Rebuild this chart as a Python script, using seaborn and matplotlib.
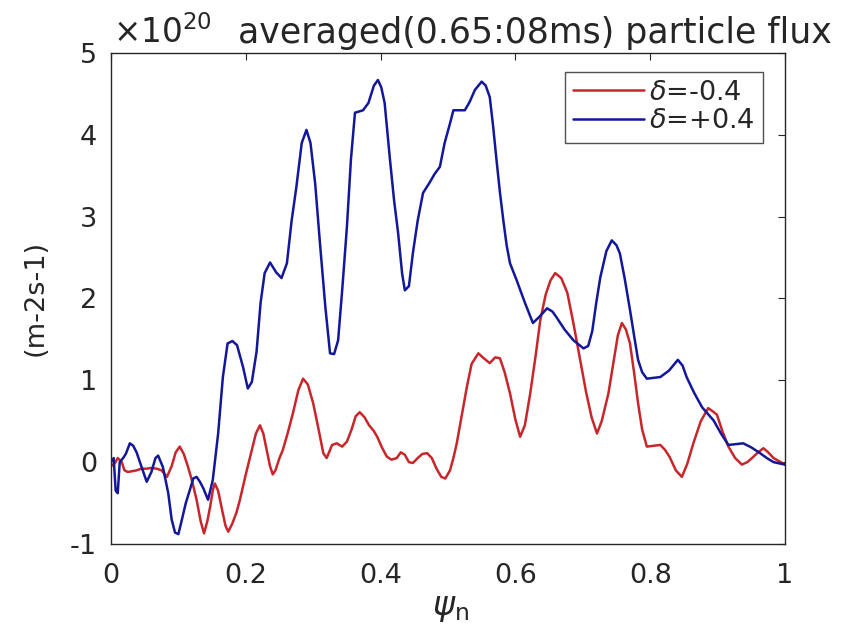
import matplotlib
matplotlib.use("Agg")
import matplotlib.pyplot as plt
import seaborn as sns

psi_pos = [
    0.000, 0.004, 0.007, 0.010, 0.013, 0.018, 0.022, 0.028, 0.033, 0.038,
    0.045, 0.053, 0.060, 0.066, 0.070, 0.077, 0.085, 0.090, 0.095, 0.100,
    0.105, 0.111, 0.117, 0.122, 0.127, 0.132, 0.137, 0.144, 0.151, 0.159,
    0.166, 0.173, 0.180, 0.187, 0.196, 0.203, 0.209, 0.216, 0.222, 0.228,
    0.236, 0.245, 0.253, 0.261, 0.268, 0.275, 0.283, 0.290, 0.296, 0.303,
    0.310, 0.318, 0.325, 0.331, 0.337, 0.343, 0.350, 0.356, 0.362, 0.374,
    0.382, 0.390, 0.396, 0.401, 0.406, 0.414, 0.420, 0.426, 0.432, 0.436,
    0.442, 0.448, 0.455, 0.463, 0.473, 0.480, 0.488, 0.495, 0.503, 0.508,
    0.518, 0.525, 0.532, 0.540, 0.550, 0.556, 0.562, 0.567, 0.572, 0.577,
    0.582, 0.587, 0.592, 0.602, 0.614, 0.626, 0.636, 0.647, 0.655, 0.661,
    0.673, 0.686, 0.701, 0.708, 0.714, 0.720, 0.726, 0.735, 0.743, 0.750,
    0.755, 0.762, 0.770, 0.776, 0.782, 0.788, 0.795, 0.805, 0.815, 0.828,
    0.841, 0.848, 0.854, 0.865, 0.877, 0.894, 0.905, 0.916, 0.927, 0.938,
    0.950, 0.963, 0.973, 0.983, 1.000,
]
flux_pos = [
    0.00, 0.05, -0.35, -0.38, 0.00, 0.05, 0.10, 0.23, 0.20, 0.12,
    -0.05, -0.24, -0.12, 0.05, 0.08, -0.06, -0.38, -0.70, -0.86, -0.88,
    -0.71, -0.50, -0.34, -0.20, -0.18, -0.24, -0.32, -0.46, -0.22, 0.35,
    1.04, 1.45, 1.48, 1.43, 1.16, 0.90, 0.98, 1.35, 1.95, 2.31,
    2.44, 2.32, 2.25, 2.43, 2.95, 3.36, 3.90, 4.06, 3.90, 3.40,
    2.68, 1.90, 1.33, 1.32, 1.49, 2.10, 2.87, 3.70, 4.27, 4.30,
    4.39, 4.60, 4.67, 4.58, 4.39, 3.69, 3.20, 2.80, 2.30, 2.10,
    2.15, 2.56, 2.95, 3.29, 3.42, 3.52, 3.61, 3.90, 4.14, 4.30,
    4.30, 4.30, 4.40, 4.55, 4.65, 4.60, 4.46, 4.10, 3.69, 3.30,
    2.96, 2.65, 2.43, 2.22, 1.95, 1.70, 1.78, 1.88, 1.84, 1.77,
    1.62, 1.49, 1.39, 1.42, 1.60, 1.95, 2.26, 2.58, 2.71, 2.65,
    2.55, 2.25, 1.86, 1.55, 1.25, 1.10, 1.02, 1.03, 1.04, 1.12,
    1.25, 1.18, 1.04, 0.85, 0.67, 0.51, 0.35, 0.21, 0.22, 0.23,
    0.18, 0.11, 0.05, 0.00, -0.03,
]

psi_neg = [
    0.000, 0.006, 0.010, 0.016, 0.020, 0.025, 0.032, 0.038, 0.045, 0.053,
    0.060, 0.068, 0.075, 0.083, 0.090, 0.096, 0.102, 0.108, 0.114, 0.120,
    0.127, 0.133, 0.138, 0.143, 0.147, 0.151, 0.154, 0.159, 0.165, 0.170,
    0.174, 0.180, 0.186, 0.191, 0.200, 0.209, 0.215, 0.221, 0.226, 0.231,
    0.236, 0.240, 0.244, 0.250, 0.255, 0.262, 0.270, 0.278, 0.285, 0.292,
    0.300, 0.308, 0.315, 0.320, 0.328, 0.335, 0.343, 0.350, 0.357, 0.363,
    0.369, 0.376, 0.383, 0.390, 0.395, 0.402, 0.409, 0.416, 0.424, 0.430,
    0.436, 0.442, 0.448, 0.455, 0.462, 0.469, 0.476, 0.483, 0.490, 0.496,
    0.503, 0.508, 0.513, 0.520, 0.528, 0.535, 0.545, 0.553, 0.562, 0.570,
    0.577, 0.584, 0.592, 0.600, 0.607, 0.614, 0.622, 0.630, 0.637, 0.645,
    0.652, 0.659, 0.668, 0.677, 0.686, 0.696, 0.705, 0.713, 0.721, 0.728,
    0.738, 0.746, 0.752, 0.758, 0.764, 0.770, 0.776, 0.782, 0.788, 0.795,
    0.805, 0.815, 0.822, 0.829, 0.838, 0.847, 0.855, 0.864, 0.875, 0.886,
    0.893, 0.899, 0.907, 0.916, 0.926, 0.936, 0.944, 0.951, 0.960, 0.968,
    0.975, 0.983, 1.000,
]
flux_neg = [
    -0.05, -0.01, 0.05, 0.00, -0.10, -0.12, -0.11, -0.10, -0.08, -0.08,
    -0.07, -0.08, -0.10, -0.18, -0.05, 0.12, 0.19, 0.10, -0.05, -0.22,
    -0.46, -0.72, -0.87, -0.72, -0.55, -0.35, -0.26, -0.35, -0.59, -0.78,
    -0.85, -0.75, -0.62, -0.47, -0.15, 0.15, 0.35, 0.45, 0.35, 0.15,
    -0.05, -0.15, -0.10, 0.05, 0.15, 0.35, 0.60, 0.88, 1.02, 0.95,
    0.72, 0.40, 0.11, 0.05, 0.21, 0.23, 0.19, 0.25, 0.40, 0.56,
    0.61, 0.55, 0.45, 0.38, 0.31, 0.18, 0.07, 0.03, 0.05, 0.12,
    0.09, 0.00, -0.01, 0.05, 0.10, 0.11, 0.05, -0.08, -0.18, -0.20,
    -0.10, 0.05, 0.23, 0.55, 0.92, 1.20, 1.33, 1.27, 1.21, 1.28,
    1.27, 1.10, 0.84, 0.52, 0.31, 0.45, 0.84, 1.30, 1.74, 2.05,
    2.22, 2.31, 2.25, 2.07, 1.70, 1.25, 0.85, 0.55, 0.35, 0.50,
    0.84, 1.25, 1.55, 1.70, 1.62, 1.45, 1.10, 0.72, 0.40, 0.19,
    0.20, 0.21, 0.15, 0.06, -0.10, -0.18, -0.02, 0.23, 0.50, 0.66,
    0.62, 0.58, 0.38, 0.19, 0.05, -0.03, 0.00, 0.05, 0.12, 0.17,
    0.12, 0.05, -0.03,
]

x_ticks = [0, 0.2, 0.4, 0.6, 0.8, 1]
x_tick_labels = ["0", "0.2", "0.4", "0.6", "0.8", "1"]
y_ticks = [-1, 0, 1, 2, 3, 4, 5]

sns.set_style("white")
plt.rcParams["axes.unicode_minus"] = False
plt.rcParams["font.family"] = ["DejaVu Sans"]

fig = plt.figure(figsize=(8.53, 6.43), dpi=100)
ax = fig.add_axes([0.1301, 0.1540, 0.7902, 0.7636])

red = "#c8262b"
blue = "#13179a"
sns.lineplot(x=psi_neg, y=flux_neg, color=red, linewidth=1.8,
             label=r"$\delta$=-0.4", ax=ax)
sns.lineplot(x=psi_pos, y=flux_pos, color=blue, linewidth=1.8,
             label=r"$\delta$=+0.4", ax=ax)

ax.set_xlim(0, 1)
ax.set_ylim(-1, 5)
ax.set_xticks(x_ticks)
ax.set_xticklabels(x_tick_labels)
ax.set_yticks(y_ticks)
ax.tick_params(direction="in", top=True, right=True, length=5, width=0.8,
               colors="#262626", labelsize=19.5)
ax.tick_params(axis="x", pad=14)
ax.tick_params(axis="y", pad=10)
for s in ax.spines.values():
    s.set_color("#262626")
    s.set_linewidth(1.0)

ax.set_ylabel("(m-2s-1)", fontsize=19.5, color="#262626")
ax.yaxis.set_label_coords(-0.092, 0.501)
ax.set_xlabel(r"$\psi_\mathregular{n}$", fontsize=24, color="#262626")
ax.xaxis.set_label_coords(0.503, -0.095)

leg = ax.legend(loc="upper right", bbox_to_anchor=(0.967, 0.962),
                fontsize=19.5, frameon=True, fancybox=False,
                handlelength=2.6, handletextpad=0.2, borderpad=0.3,
                labelspacing=0.1, borderaxespad=0)
leg.get_frame().set_edgecolor("#262626")
leg.get_frame().set_linewidth(1.0)

# MATLAB style exponent and title line
fig.text(113 / 853, 1 - 43 / 643, r"$\times$10$^{20}$", fontsize=23.5,
         color="#262626", va="baseline", ha="left")
fig.text(238 / 853, 1 - 43 / 643, "averaged(0.65:08ms) particle flux",
         fontsize=25, color="#262626", va="baseline", ha="left")

fig.savefig("out.png", dpi=100)
